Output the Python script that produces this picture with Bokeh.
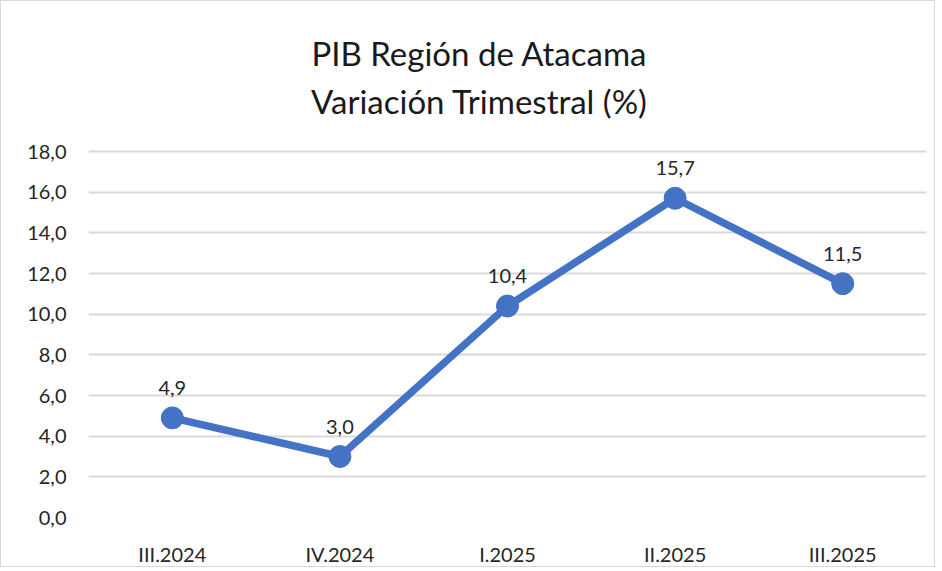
from bokeh.plotting import figure
from bokeh.models import ColumnDataSource, FactorRange, Range1d, FixedTicker, Label, LabelSet
from bokeh.core.properties import value
from bokeh.embed import file_html
from bokeh.resources import INLINE

categories = ["III.2024", "IV.2024", "I.2025", "II.2025", "III.2025"]
values = [4.9, 3.0, 10.4, 15.7, 11.5]
value_labels = ["4,9", "3,0", "10,4", "15,7", "11,5"]
y_ticks = [0, 2, 4, 6, 8, 10, 12, 14, 16, 18]
y_tick_labels = ["0,0", "2,0", "4,0", "6,0", "8,0", "10,0", "12,0", "14,0", "16,0", "18,0"]
title_lines = ["PIB Región de Atacama", "Variación Trimestral (%)"]

FONT = "Lato"
src = ColumnDataSource(dict(x=categories, y=values, lab=value_labels))

# frame spans whole height; the value axis occupies the lower 366 px of it
frame_h = 506
axis_h = 366
y_end = 18 * frame_h / axis_h

p = figure(x_range=FactorRange(*categories, range_padding=0), y_range=Range1d(0, y_end),
           width=935, height=567, output_backend="svg", toolbar_location=None,
           min_border_left=87, min_border_right=10, min_border_top=10, min_border_bottom=51)
p.styles = {"border": "1px solid #d9d9d9"}
p.outline_line_color = None
p.background_fill_color = "white"
p.title.text = ""

for txt, sy in zip(title_lines, [465, 417]):
    p.add_layout(Label(x=391, y=sy, x_units="screen", y_units="screen", text=txt,
                       text_align="center", text_baseline="middle", text_font=FONT,
                       text_font_size="33px", text_color="#1a1a1a"))

p.line("x", "y", source=src, line_color="#4472C4", line_width=7.5)
p.scatter("x", "y", source=src, size=22, fill_color="#4472C4", line_color="#4472C4")

labels = LabelSet(x="x", y="y", text="lab", source=src, text_align="center",
                  text_baseline="bottom", y_offset=23, text_font_size=value("20px"),
                  text_color="#262626", text_font=value(FONT))
p.add_layout(labels)

p.yaxis.ticker = FixedTicker(ticks=y_ticks)
p.yaxis.major_label_overrides = {t: l for t, l in zip(y_ticks, y_tick_labels)}
p.yaxis.axis_line_color = None
p.yaxis.major_tick_line_color = None
p.yaxis.minor_tick_line_color = None
p.yaxis.major_label_text_font_size = "20px"
p.yaxis.major_label_text_font = FONT
p.yaxis.major_label_text_color = "#262626"
p.yaxis.major_label_standoff = 16

p.xaxis.axis_line_color = None
p.xaxis.major_tick_line_color = None
p.xaxis.minor_tick_line_color = None
p.xaxis.major_label_text_font_size = "20px"
p.xaxis.major_label_text_font = FONT
p.xaxis.major_label_text_color = "#262626"
p.xaxis.major_label_standoff = 18

p.xgrid.grid_line_color = None
p.ygrid.grid_line_color = "#d9d9d9"
p.ygrid.grid_line_width = 2

open("out.html", "w").write(file_html(p, INLINE))
